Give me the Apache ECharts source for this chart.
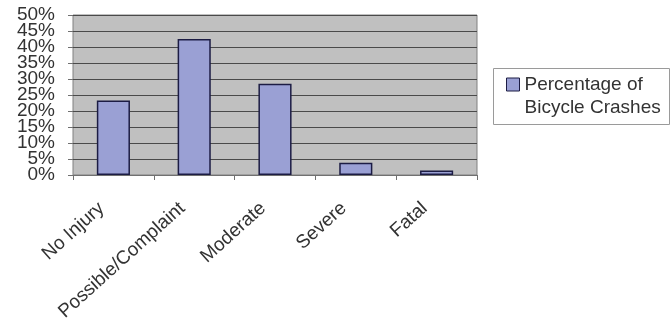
<!DOCTYPE html>
<html>
<head>
<meta charset="utf-8">
<script src="https://cdn.jsdelivr.net/npm/echarts@6/dist/echarts.min.js"></script>
<style>
  html, body { margin: 0; padding: 0; background: #ffffff; }
  #chart { width: 672px; height: 320px; }
</style>
</head>
<body>
<div id="chart"></div>
<script>
// Injury severity of bicycle crashes (share of all crashes, %)
const categories = ['No Injury', 'Possible/Complaint', 'Moderate', 'Severe', 'Fatal'];
const crashShare = [23.3, 42.5, 28.5, 3.8, 1.4];
const seriesName = 'Percentage of\nBicycle Crashes';
const yTicks = [0, 5, 10, 15, 20, 25, 30, 35, 40, 45, 50];

const chart = echarts.init(document.getElementById('chart'), null, { renderer: 'canvas' });

const font = '"Liberation Sans", Arial, sans-serif';
const yMin = yTicks[0];
const yMax = yTicks[yTicks.length - 1];

const yLabelStyle = {
  margin: 18,
  fontFamily: font, fontSize: 19, lineHeight: 12, color: '#333333',
  formatter: v => v + '%'
};

chart.setOption({
  animation: false,
  backgroundColor: '#ffffff',
  grid: {
    left: 73, top: 15, width: 404, height: 160,
    outerBoundsMode: 'none',
    containLabel: false,
    show: true, backgroundColor: '#c0c0c0', borderColor: '#808080', borderWidth: 1
  },
  // legend frame
  graphic: [{
    type: 'rect', z: 1,
    shape: { x: 493.5, y: 68.5, width: 176, height: 56 },
    style: { fill: '#ffffff', stroke: '#9a9a9a', lineWidth: 1 }
  }],
  legend: {
    left: 506, top: 50,
    z: 5,
    orient: 'vertical',
    padding: 0,
    icon: 'rect',
    itemWidth: 13, itemHeight: 13,
    itemStyle: { borderColor: '#1c1c44', borderWidth: 1 },
    // leading blank line keeps the first text line level with the swatch
    formatter: name => '\n' + name,
    textStyle: {
      fontFamily: font, fontSize: 19, color: '#333333', lineHeight: 23
    },
    data: [seriesName]
  },
  xAxis: {
    type: 'category',
    data: categories,
    boundaryGap: true,
    axisLine: { show: true, lineStyle: { color: '#707070', width: 1 } },
    axisTick: { show: true, alignWithLabel: false, length: 5, lineStyle: { color: '#707070' } },
    axisLabel: {
      interval: 0, rotate: 42, margin: 20, padding: [0, 16, 0, 0],
      fontFamily: font, fontSize: 19, color: '#333333'
    },
    splitLine: { show: false }
  },
  yAxis: [
    {
      // inner ticks 5% .. 45% with the gridlines
      type: 'value',
      min: yMin, max: yMax, interval: 5,
      axisLine: { show: false },
      axisTick: { show: true, length: 5, lineStyle: { color: '#707070' } },
      axisLabel: Object.assign({ showMinLabel: false, showMaxLabel: false }, yLabelStyle),
      splitLine: { show: true, lineStyle: { color: '#4a4a4a', width: 1 } }
    },
    {
      // end ticks 0% and 50%
      type: 'value', position: 'left', offset: 0,
      min: yMin, max: yMax, interval: yMax - yMin,
      axisLine: { show: false },
      axisTick: { show: true, length: 5, lineStyle: { color: '#707070' } },
      axisLabel: Object.assign({ showMinLabel: true, showMaxLabel: true }, yLabelStyle),
      splitLine: { show: false }
    }
  ],
  series: [{
    name: seriesName,
    type: 'bar',
    data: crashShare,
    barWidth: '41%',
    itemStyle: { color: '#9aa0d4', borderColor: '#1c1c44', borderWidth: 1.5 }
  }]
});
</script>
</body>
</html>
